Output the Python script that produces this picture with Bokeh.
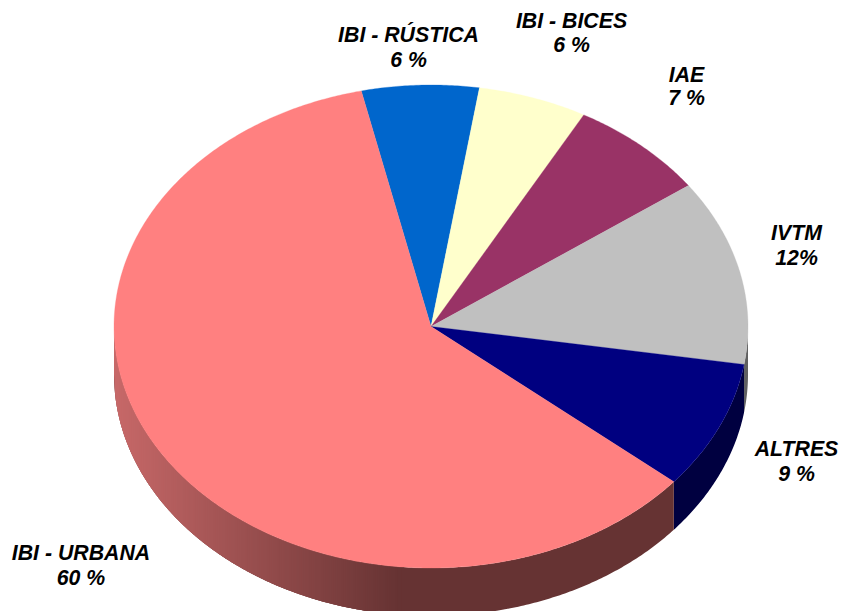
import numpy as np
from bokeh.plotting import figure
from bokeh.models import Range1d
from bokeh.core.properties import value
from bokeh.embed import file_html
from bokeh.resources import INLINE

# Data (clockwise from the top-left start)
categories = ["IBI - RÚSTICA", "IBI - BICES", "IAE", "IVTM", "ALTRES", "IBI - URBANA"]
shares = [5.97, 5.56, 7.08, 12.43, 8.60, 60.36]
percent_labels = ["6 %", "6 %", "7 %", "12%", "9 %", "60 %"]
top_colors = ["#0066CC", "#FFFFCC", "#993366", "#C0C0C0", "#000080", "#FF8080"]
side_colors = ["#003366", "#808066", "#4D1A33", "#606060", "#000040", "#663333"]

# Layout
WIDTH, HEIGHT = 841, 611
CX, CY, RX, RY = 430.5, 326.0, 317.0, 241.5
DEPTH = 48.0 / RY
START_ANGLE = 102.7
label_px = [(408, 34), (571, 20), (686, 74), (796, 232), (796, 448), (80.5, 552)]
line_gaps = [25, 24, 23, 25, 25, 25]

def to_x(px):
    return (px - CX) / RX

def to_y(py):
    return (CY - py) / RY

p = figure(width=WIDTH, height=HEIGHT, output_backend="svg", toolbar_location=None,
           x_range=Range1d(to_x(0), to_x(WIDTH)),
           y_range=Range1d(to_y(HEIGHT), to_y(0)),
           min_border=0, outline_line_color=None)
p.axis.visible = False
p.grid.visible = False
p.background_fill_color = None
p.border_fill_color = None

# slice angle bounds
total = sum(shares)
bounds = [START_ANGLE]
for s in shares:
    bounds.append(bounds[-1] - 360.0 * s / total)

def rim_polygon(a0, a1):
    a = np.radians(np.linspace(a0, a1, int(abs(a1 - a0) * 2) + 2))
    x = np.cos(a)
    y = np.sin(a)
    return np.concatenate([x, x[::-1]]), np.concatenate([y, y[::-1] - DEPTH])

# Solid rim pieces, only on the front half of the ellipse (angles 0 .. -180)
for i, cat in enumerate(categories):
    a0, a1 = min(bounds[i], 0.0), max(bounds[i + 1], -180.0)
    if a1 < a0:
        rx_, ry_ = rim_polygon(a0, a1)
        p.patch(rx_, ry_, fill_color=side_colors[i], line_color=None)

# Gradient on the left of the IBI - URBANA rim: overlapping vertical bands
GRAD_START, GRAD_END, BAND = 113, 400, 2
LIGHT, DARK = (200, 105, 105), (102, 51, 51)
for left in range(GRAD_START + 1, GRAD_END, BAND):
    t = (left - GRAD_START) / (GRAD_END - GRAD_START)
    col = tuple(int(l + (d - l) * t) for l, d in zip(LIGHT, DARK))
    xs = np.linspace(to_x(left - 1), to_x(left - 1 + 2 * BAND), 5)
    xs = np.clip(xs, -1.0, 1.0)
    edge = -np.sqrt(1.0 - xs ** 2)
    x_ = np.concatenate([xs, xs[::-1]])
    y_ = np.concatenate([edge, edge[::-1] - DEPTH])
    p.patch(x_, y_, fill_color="#%02x%02x%02x" % col, line_color=None)

# Top faces
for i, cat in enumerate(categories):
    a = np.radians(np.linspace(bounds[i], bounds[i + 1], int(abs(bounds[i + 1] - bounds[i]) * 2) + 2))
    px_ = np.concatenate([[0.0], np.cos(a)])
    py_ = np.concatenate([[0.0], np.sin(a)])
    p.patch(px_, py_, fill_color=top_colors[i], line_color=top_colors[i], line_width=0.3)

# Labels
lx, ly, lt = [], [], []
for (px, py), gap, c, pct in zip(label_px, line_gaps, categories, percent_labels):
    lx += [to_x(px), to_x(px)]
    ly += [to_y(py), to_y(py + gap)]
    lt += [c, pct]
p.text(x=lx, y=ly, text=lt, text_font=value("Liberation Sans"), text_font_style="bold italic",
       text_font_size="21.3px", text_color="#000000", text_align="center", text_baseline="middle")

open("out.html", "w").write(file_html(p, INLINE))
